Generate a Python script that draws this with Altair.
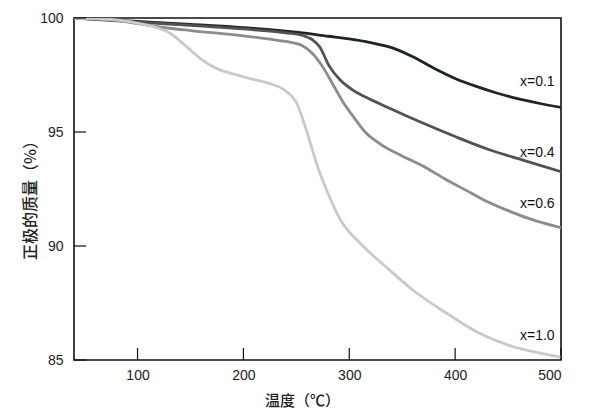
import altair as alt
import pandas as pd

# temperature (°C) and mass (%)
t_01 = [40, 100, 150, 200, 250, 280, 300, 320, 340, 360, 380, 400, 420, 440, 460, 480, 500]
m_01 = [100, 99.85, 99.72, 99.58, 99.38, 99.2, 99.08, 98.92, 98.7, 98.3, 97.8, 97.35, 97.0, 96.7, 96.45, 96.25, 96.08]

t_04 = [40, 100, 150, 200, 240, 255, 265, 272, 281, 291, 303, 316, 338, 370, 400, 433, 464, 500]
m_04 = [100, 99.82, 99.68, 99.52, 99.35, 99.25, 99.05, 98.74, 97.9, 97.3, 96.85, 96.52, 96.04, 95.38, 94.8, 94.21, 93.77, 93.26]

t_06 = [40, 80, 100, 130, 150, 200, 225, 240, 255, 265, 275, 285, 295, 305, 315, 330, 350, 370, 390, 410, 430, 450, 470, 500]
m_06 = [100, 99.9, 99.75, 99.55, 99.45, 99.22, 99.07, 98.97, 98.8, 98.45, 97.85, 97.05, 96.25, 95.6, 95.0, 94.45, 93.95, 93.5, 92.95, 92.45, 91.95, 91.55, 91.2, 90.8]

t_10 = [40, 80, 100, 115, 130, 145, 160, 175, 190, 210, 225, 240, 250, 260, 270, 280, 291, 313, 338, 360, 392, 423, 455, 480, 500]
m_10 = [100, 99.92, 99.78, 99.62, 99.35, 98.8, 98.2, 97.78, 97.55, 97.3, 97.12, 96.8, 96.3, 95.0, 93.5, 92.3, 91.2, 90.0, 88.95, 88.07, 87.05, 86.17, 85.58, 85.3, 85.12]

series_names = ["x=0.1", "x=0.4", "x=0.6", "x=1.0"]
series_colors = ["#1c2623", "#525252", "#8c8c8c", "#c9c9c9"]

label_x = [494, 494, 494, 494]
label_y = [97.2, 94.1, 91.85, 86.05]

x_ticks = [100, 200, 300, 400, 500]
y_ticks = [85, 90, 95, 100]

rows = []
for name, ts, ms in zip(series_names, [t_01, t_04, t_06, t_10], [m_01, m_04, m_06, m_10]):
    for t, m in zip(ts, ms):
        rows.append({"series": name, "t": t, "m": m})
df = pd.DataFrame(rows)
labels = pd.DataFrame({"series": series_names, "t": label_x, "m": label_y})

W, H = 487, 342
FONT = "Liberation Sans"
CJK = "Noto Sans CJK SC"

xscale = alt.Scale(domain=[40, 500], nice=False, zero=False)
yscale = alt.Scale(domain=[85, 100], nice=False, zero=False)

x_axis = alt.Axis(values=x_ticks, tickSize=0, grid=False, domain=False, labelPadding=8,
                  labelFontSize=14, labelFont=FONT, labelColor="#222",
                  title="温度（℃）", titleFont=CJK, titleFontSize=15,
                  titleFontWeight=500, titleColor="#222", titleX=228, titleY=40,
                  titleAlign="center", titleBaseline="middle")
y_axis = alt.Axis(values=y_ticks, tickSize=0, grid=False, domain=False, labelPadding=11,
                  labelFontSize=14, labelFont=FONT, labelColor="#222",
                  title="正极的质量（%）", titleFont=CJK, titleFontSize=16,
                  titleFontWeight=500, titleColor="#222", titleX=-44, titleY=178,
                  titleAlign="center", titleBaseline="middle", titleAngle=-90)

lines = alt.Chart(df).mark_line(strokeWidth=2.8, interpolate="monotone", clip=True).encode(
    x=alt.X("t:Q", scale=xscale, axis=x_axis),
    y=alt.Y("m:Q", scale=yscale, axis=y_axis),
    color=alt.Color("series:N", scale=alt.Scale(domain=series_names, range=series_colors), legend=None),
    order=alt.Order("t:Q"),
)

text = alt.Chart(labels).mark_text(align="right", baseline="middle", fontSize=14, font=FONT, color="#111").encode(
    x=alt.X("t:Q", scale=xscale),
    y=alt.Y("m:Q", scale=yscale),
    text="series:N",
)

xt = alt.Chart(pd.DataFrame({"t": x_ticks})).mark_rule(color="#111", strokeWidth=1.2).encode(
    x=alt.X("t:Q", scale=xscale), y=alt.value(H), y2=alt.value(H - 12))
yt = alt.Chart(pd.DataFrame({"m": y_ticks})).mark_rule(color="#111", strokeWidth=1.2).encode(
    y=alt.Y("m:Q", scale=yscale), x=alt.value(0), x2=alt.value(12))

chart = alt.layer(lines, xt, yt, text).properties(
    width=W, height=H,
    autosize=alt.AutoSizeParams(type="none"),
    padding={"left": 66, "top": 10, "right": 30, "bottom": 50},
).configure_view(stroke="#111", strokeWidth=1.6)

chart.save("out.html", embed_options={"renderer": "svg", "actions": False})
